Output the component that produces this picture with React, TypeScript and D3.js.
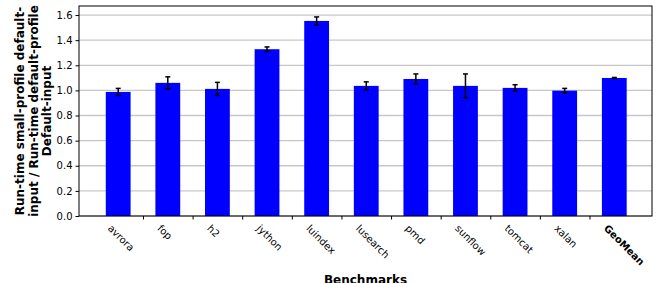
import React, { useRef, useEffect } from 'react';
import * as d3 from 'd3';

// benchmark names along the x axis
const benchmarks = ['avrora', 'fop', 'h2', 'jython', 'luindex', 'lusearch', 'pmd', 'sunflow', 'tomcat', 'xalan', 'GeoMean'];
// normalised run-time (small-profile / default-profile)
const ratios = [0.988, 1.06, 1.012, 1.328, 1.553, 1.036, 1.091, 1.036, 1.02, 0.998, 1.099];
// half-length of the error bars
const errors = [0.028, 0.048, 0.052, 0.018, 0.032, 0.032, 0.04, 0.095, 0.025, 0.018, 0.004];
const yTicks = [0, 0.2, 0.4, 0.6, 0.8, 1.0, 1.2, 1.4, 1.6];
const yLabelLines = ['Run-time small-profile default-', 'input / Run-time default-profile', 'Default-input'];
const xLabel = 'Benchmarks';

const App = () => {
  const chartRef = useRef<SVGSVGElement | null>(null);

  useEffect(() => {
    if (!chartRef.current) return;
    const svg = d3.select(chartRef.current);
    svg.selectAll('*').remove();

    const left = 79, right = 652, top = 6, bottom = 216;
    const font = 'DejaVu Sans, sans-serif';

    const x = d3.scaleLinear().domain([-0.79, 10.76]).range([left, right]);
    const y = d3.scaleLinear().domain([0, 1.672]).range([bottom, top]);

    // grid lines
    svg.append('g')
      .selectAll('line')
      .data(yTicks)
      .join('line')
      .attr('x1', left)
      .attr('x2', right)
      .attr('y1', d => y(d))
      .attr('y2', d => y(d))
      .attr('stroke', '#c8c8c8')
      .attr('stroke-width', 1.3);

    // bars
    const barW = x(0.5) - x(0);
    svg.append('g')
      .selectAll('rect')
      .data(ratios)
      .join('rect')
      .attr('x', (d, i) => x(i) - barW / 2)
      .attr('width', barW)
      .attr('y', d => y(d))
      .attr('height', d => y(0) - y(d))
      .attr('fill', '#0000ff');

    // error bars
    const err = svg.append('g').attr('stroke', '#000').attr('stroke-width', 1.5);
    ratios.forEach((d, i) => {
      const cx = x(i);
      err.append('line').attr('x1', cx).attr('x2', cx).attr('y1', y(d - errors[i])).attr('y2', y(d + errors[i]));
      err.append('line').attr('x1', cx - 2.5).attr('x2', cx + 2.5).attr('y1', y(d - errors[i])).attr('y2', y(d - errors[i]));
      err.append('line').attr('x1', cx - 2.5).attr('x2', cx + 2.5).attr('y1', y(d + errors[i])).attr('y2', y(d + errors[i]));
    });

    // y axis
    const yAxis = svg.append('g')
      .attr('transform', `translate(${left},0)`)
      .call(d3.axisLeft(y).tickValues(yTicks).tickFormat(d3.format('.1f')).tickSize(3.5).tickPadding(3));
    yAxis.select('.domain').remove();
    yAxis.selectAll('text').attr('font-family', font).attr('font-size', 10).attr('fill', '#000');

    // x axis: ticks between bars, labels rotated under each bar
    const xAxis = svg.append('g')
      .attr('transform', `translate(0,${bottom})`)
      .call(d3.axisBottom(x).tickValues(d3.range(0.5, benchmarks.length - 1, 1)).tickSize(3.5).tickFormat(() => ''));
    xAxis.select('.domain').remove();

    svg.append('g')
      .selectAll('text')
      .data(benchmarks)
      .join('text')
      .attr('transform', (d, i) => `translate(${x(i) - 11},${bottom + 13}) rotate(45)`)
      .attr('font-family', font)
      .attr('font-size', 10)
      .attr('font-weight', d => (d === 'GeoMean' ? 'bold' : 'normal'))
      .text(d => d);

    // frame
    svg.append('rect')
      .attr('x', left)
      .attr('y', top)
      .attr('width', right - left)
      .attr('height', bottom - top)
      .attr('fill', 'none')
      .attr('stroke', '#000')
      .attr('stroke-width', 1);

    // axis titles
    svg.append('text')
      .attr('x', (left + right) / 2)
      .attr('y', 284)
      .attr('text-anchor', 'middle')
      .attr('font-family', font)
      .attr('font-size', 12)
      .attr('font-weight', 'bold')
      .text(xLabel);

    const yl = svg.append('text')
      .attr('transform', `translate(24,${(top + bottom) / 2}) rotate(-90)`)
      .attr('text-anchor', 'middle')
      .attr('font-family', font)
      .attr('font-size', 12)
      .attr('font-weight', 'bold');
    yLabelLines.forEach((line, i) => {
      yl.append('tspan').attr('x', 0).attr('y', i * 13.5).text(line);
    });
  }, []);

  return (
    <svg ref={chartRef} width={657} height={283} style={{ position: 'absolute', left: 0, top: 0, background: '#fff' }} />
  );
};

export default App;
